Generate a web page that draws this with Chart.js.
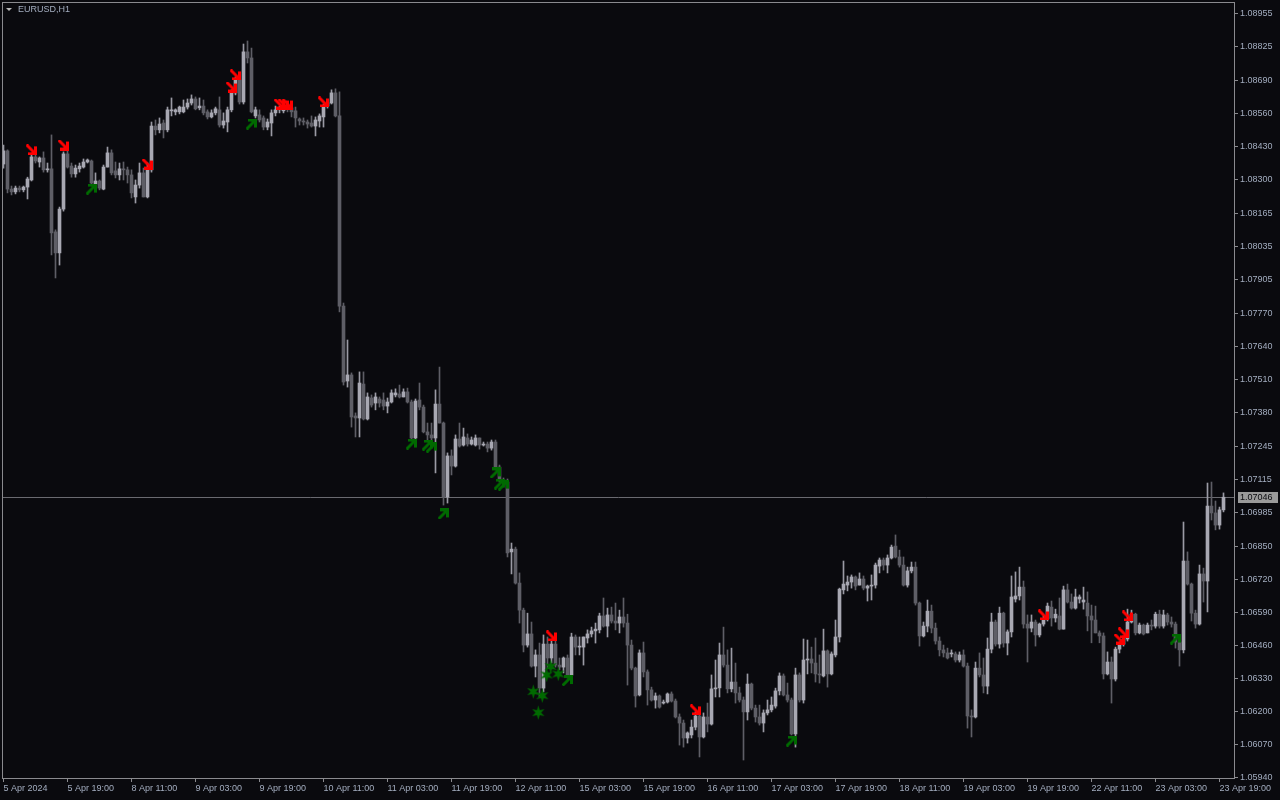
<!DOCTYPE html>
<html>
<head>
<meta charset="utf-8">
<script src="https://cdn.jsdelivr.net/npm/chart.js@4.4.1/dist/chart.umd.min.js"></script>
<style>
  html, body { margin: 0; padding: 0; background: #0a0a0e; overflow: hidden; }
  canvas { display: block; }
</style>
</head>
<body>
<canvas id="grafico" width="1280" height="800" style="width:1280px;height:800px"></canvas>
<script>
// EURUSD H1: velas (una por hora, desde 5 Apr 03:00).

const apertura = [
  1.08362, 1.08414, 1.08263, 1.08252, 1.08267, 1.0826, 1.08271, 1.08299, 1.0839, 1.0837,
  1.08386, 1.08339, 1.08343, 1.08094, 1.08011, 1.08184, 1.08402, 1.08354, 1.08323, 1.08343,
  1.0835, 1.0837, 1.08374, 1.08283, 1.08295, 1.08263, 1.0835, 1.08406, 1.08335, 1.08319,
  1.08343, 1.08339, 1.08319, 1.08232, 1.08279, 1.08327, 1.08232, 1.08339, 1.08512, 1.08497,
  1.08524, 1.08497, 1.08572, 1.08568, 1.08568, 1.08568, 1.08587, 1.08603, 1.08619, 1.08584,
  1.08591, 1.08568, 1.08548, 1.08564, 1.08576, 1.08516, 1.08528, 1.08576, 1.08643, 1.08694,
  1.08607, 1.08805, 1.08781, 1.08552, 1.08556, 1.08544, 1.08508, 1.08524, 1.08564, 1.08576,
  1.08572, 1.08587, 1.08584, 1.08572, 1.0854, 1.08532, 1.08528, 1.08524, 1.08512, 1.08532,
  1.08548, 1.08591, 1.08603, 1.08643, 1.08552, 1.07801, 1.07505, 1.07529, 1.07367, 1.07359,
  1.07493, 1.07355, 1.07438, 1.07418, 1.07434, 1.0743, 1.07406, 1.07422, 1.0745, 1.07454,
  1.07442, 1.07462, 1.07422, 1.0728, 1.0743, 1.07402, 1.07304, 1.07292, 1.0728, 1.07414,
  1.07339, 1.07047, 1.07209, 1.07169, 1.07276, 1.07252, 1.0728, 1.07256, 1.07252, 1.0728,
  1.07252, 1.07256, 1.0724, 1.07264, 1.07165, 1.07114, 1.07106, 1.0683, 1.06841, 1.06707,
  1.066, 1.06462, 1.06506, 1.06379, 1.06423, 1.06292, 1.06466, 1.06411, 1.06466, 1.06383,
  1.06375, 1.06411, 1.06344, 1.06494, 1.06454, 1.06454, 1.0649, 1.06506, 1.06518, 1.06522,
  1.06577, 1.06537, 1.06581, 1.06557, 1.06549, 1.06573, 1.06549, 1.06462, 1.06371, 1.06265,
  1.06431, 1.06356, 1.06285, 1.06245, 1.06261, 1.06233, 1.06237, 1.06269, 1.06241, 1.06178,
  1.06154, 1.06095, 1.06107, 1.06138, 1.06182, 1.06099, 1.06178, 1.0615, 1.06289, 1.06293,
  1.06423, 1.06383, 1.06289, 1.06316, 1.06273, 1.06245, 1.06198, 1.06308, 1.06213, 1.06178,
  1.06154, 1.06194, 1.06206, 1.06221, 1.06281, 1.0634, 1.06265, 1.06245, 1.06111, 1.06344,
  1.06245, 1.06403, 1.06407, 1.06391, 1.06348, 1.0634, 1.06439, 1.06348, 1.06423, 1.06494,
  1.0668, 1.06699, 1.06711, 1.06731, 1.06699, 1.06723, 1.06687, 1.06695, 1.06699, 1.06774,
  1.06798, 1.06778, 1.06806, 1.06853, 1.0681, 1.06778, 1.06699, 1.06755, 1.0677, 1.06628,
  1.06498, 1.06537, 1.06596, 1.06529, 1.06478, 1.06443, 1.06431, 1.06427, 1.06427, 1.06403,
  1.06423, 1.06379, 1.06182, 1.06178, 1.06371, 1.06344, 1.063, 1.06446, 1.06553, 1.06466,
  1.06588, 1.0647, 1.06514, 1.06644, 1.06656, 1.06691, 1.06545, 1.06529, 1.06553, 1.06502,
  1.06545, 1.06565, 1.06612, 1.06569, 1.06577, 1.06525, 1.0668, 1.06632, 1.06608, 1.06644,
  1.06632, 1.06628, 1.06577, 1.06561, 1.0651, 1.06498, 1.06348, 1.06395, 1.06328, 1.06446,
  1.06466, 1.06486, 1.06553, 1.06584, 1.0651, 1.06541, 1.0651, 1.06541, 1.06537, 1.06584,
  1.06537, 1.06581, 1.06553, 1.06545, 1.06474, 1.06443, 1.06794, 1.06703, 1.06588, 1.06545,
  1.06743, 1.06715, 1.07011, 1.06984, 1.06936, 1.06996,
];

const maximo = [
  1.08437, 1.08418, 1.08275, 1.08275, 1.08275, 1.08275, 1.0831, 1.08402, 1.08406, 1.0839,
  1.0841, 1.08366, 1.08477, 1.08102, 1.08192, 1.0841, 1.08418, 1.08366, 1.08358, 1.08366,
  1.08382, 1.08382, 1.08378, 1.08327, 1.08299, 1.08358, 1.08429, 1.08418, 1.0837, 1.08366,
  1.0837, 1.0835, 1.08339, 1.08299, 1.08366, 1.08346, 1.08366, 1.08528, 1.08536, 1.08544,
  1.08536, 1.08587, 1.08623, 1.0858, 1.08591, 1.08615, 1.08619, 1.08635, 1.08627, 1.08623,
  1.08615, 1.08576, 1.08576, 1.08587, 1.08627, 1.08564, 1.08587, 1.08655, 1.08706, 1.0871,
  1.08836, 1.08848, 1.0882, 1.08587, 1.08576, 1.08552, 1.0854, 1.08576, 1.08591, 1.08591,
  1.08603, 1.08603, 1.08595, 1.08587, 1.08544, 1.08544, 1.08536, 1.08552, 1.08548, 1.0856,
  1.08599, 1.08615, 1.08655, 1.08659, 1.08647, 1.07813, 1.07667, 1.07537, 1.07379, 1.07541,
  1.07541, 1.07458, 1.0745, 1.07458, 1.07442, 1.07458, 1.07438, 1.0747, 1.07474, 1.07489,
  1.07474, 1.07477, 1.0743, 1.07434, 1.07497, 1.0741, 1.07339, 1.07339, 1.0747, 1.0756,
  1.07343, 1.07221, 1.07233, 1.07292, 1.07339, 1.07319, 1.07296, 1.07284, 1.07292, 1.0728,
  1.07264, 1.07264, 1.07272, 1.07272, 1.07173, 1.07122, 1.07118, 1.06865, 1.06849, 1.06747,
  1.06608, 1.06588, 1.06553, 1.06443, 1.0647, 1.06502, 1.06494, 1.06482, 1.06482, 1.06411,
  1.06415, 1.06423, 1.06509, 1.06502, 1.06494, 1.06494, 1.06522, 1.06533, 1.06549, 1.06588,
  1.06648, 1.06608, 1.06612, 1.06628, 1.066, 1.06648, 1.06584, 1.06482, 1.06375, 1.06443,
  1.06474, 1.06364, 1.06296, 1.06273, 1.06265, 1.06245, 1.06273, 1.06277, 1.06249, 1.0619,
  1.06166, 1.06119, 1.06166, 1.06198, 1.06186, 1.06194, 1.06233, 1.06344, 1.06403, 1.0647,
  1.06533, 1.06443, 1.0645, 1.06391, 1.06296, 1.06257, 1.06348, 1.06312, 1.06225, 1.06225,
  1.06206, 1.06245, 1.06257, 1.06292, 1.06352, 1.06348, 1.06312, 1.06253, 1.06371, 1.06352,
  1.06486, 1.06482, 1.06454, 1.0649, 1.06423, 1.06525, 1.06443, 1.06435, 1.06561, 1.06687,
  1.06794, 1.06735, 1.06739, 1.06735, 1.06747, 1.06735, 1.06699, 1.06739, 1.06786, 1.06806,
  1.06806, 1.06818, 1.06857, 1.06897, 1.06837, 1.0681, 1.0677, 1.0679, 1.0679, 1.06632,
  1.06553, 1.0664, 1.0662, 1.06549, 1.06494, 1.06462, 1.0645, 1.06443, 1.06435, 1.06435,
  1.06443, 1.06391, 1.06206, 1.06395, 1.06431, 1.06411, 1.0649, 1.06588, 1.06561, 1.06612,
  1.06592, 1.06522, 1.06735, 1.06751, 1.0677, 1.06715, 1.06581, 1.06581, 1.06561, 1.06549,
  1.06577, 1.06628, 1.06636, 1.06604, 1.06648, 1.06695, 1.06703, 1.06664, 1.06683, 1.0666,
  1.06691, 1.06672, 1.0662, 1.06616, 1.06518, 1.0651, 1.06435, 1.06415, 1.06454, 1.06474,
  1.06494, 1.06604, 1.066, 1.06588, 1.06549, 1.06545, 1.06549, 1.06561, 1.06592, 1.066,
  1.066, 1.06588, 1.06573, 1.06553, 1.06482, 1.06948, 1.0683, 1.06707, 1.066, 1.06778,
  1.06766, 1.07102, 1.07106, 1.07031, 1.07007, 1.07063,
];

const minimo = [
  1.08346, 1.08248, 1.0824, 1.08244, 1.08252, 1.08252, 1.08224, 1.08295, 1.08366, 1.0835,
  1.0833, 1.0833, 1.08003, 1.07912, 1.07963, 1.08176, 1.08346, 1.0831, 1.0831, 1.0833,
  1.08346, 1.08366, 1.08279, 1.08271, 1.0826, 1.0826, 1.0835, 1.08319, 1.08307, 1.08299,
  1.08299, 1.08287, 1.08228, 1.08208, 1.08267, 1.08232, 1.08228, 1.0833, 1.08477, 1.08485,
  1.08465, 1.08489, 1.08552, 1.08556, 1.0856, 1.08564, 1.08579, 1.08595, 1.08576, 1.08576,
  1.08556, 1.0854, 1.08544, 1.08556, 1.08508, 1.08504, 1.08489, 1.08568, 1.08635, 1.08599,
  1.08599, 1.08761, 1.08564, 1.08544, 1.08528, 1.08497, 1.08497, 1.08473, 1.08552, 1.08564,
  1.08564, 1.08568, 1.08548, 1.08508, 1.08516, 1.08516, 1.08504, 1.08508, 1.08473, 1.08508,
  1.08508, 1.08583, 1.08599, 1.08548, 1.07778, 1.07489, 1.07481, 1.07323, 1.07284, 1.07284,
  1.07351, 1.07351, 1.07402, 1.07391, 1.07402, 1.07391, 1.07379, 1.07418, 1.07442, 1.07438,
  1.07442, 1.07418, 1.07272, 1.07272, 1.07391, 1.073, 1.07272, 1.07244, 1.07142, 1.07339,
  1.07015, 1.07023, 1.07134, 1.07165, 1.07244, 1.07248, 1.07248, 1.07252, 1.07248, 1.07236,
  1.07248, 1.07225, 1.07232, 1.07161, 1.07106, 1.07098, 1.0681, 1.06743, 1.06703, 1.06549,
  1.06435, 1.06454, 1.06375, 1.06336, 1.06257, 1.06277, 1.06371, 1.06391, 1.06375, 1.06364,
  1.06352, 1.06332, 1.06336, 1.06423, 1.06423, 1.06383, 1.0647, 1.06494, 1.0647, 1.0651,
  1.06533, 1.06494, 1.06549, 1.06522, 1.0651, 1.06533, 1.06304, 1.06364, 1.06217, 1.06261,
  1.06336, 1.06225, 1.06241, 1.06213, 1.06213, 1.06229, 1.06233, 1.06237, 1.06174, 1.06067,
  1.06059, 1.06075, 1.06095, 1.06127, 1.0602, 1.06095, 1.06119, 1.06146, 1.06257, 1.06257,
  1.06375, 1.06273, 1.06277, 1.06233, 1.06237, 1.06008, 1.06166, 1.06206, 1.06158, 1.06146,
  1.06119, 1.06186, 1.06198, 1.06213, 1.06265, 1.06261, 1.06237, 1.06107, 1.06059, 1.06237,
  1.06233, 1.06348, 1.06352, 1.06316, 1.06312, 1.06336, 1.06296, 1.06344, 1.06415, 1.06474,
  1.06664, 1.06676, 1.06687, 1.0668, 1.06699, 1.0668, 1.06636, 1.0664, 1.06687, 1.06747,
  1.06758, 1.06747, 1.06802, 1.06806, 1.0677, 1.06695, 1.06691, 1.06747, 1.0662, 1.06458,
  1.06494, 1.06514, 1.0651, 1.06466, 1.06419, 1.06415, 1.06407, 1.06415, 1.06395, 1.06395,
  1.06375, 1.06134, 1.06099, 1.06174, 1.06336, 1.06273, 1.06269, 1.06431, 1.06458, 1.0645,
  1.06454, 1.06423, 1.06494, 1.06632, 1.0664, 1.06529, 1.06395, 1.06514, 1.06458, 1.06494,
  1.06537, 1.06557, 1.06537, 1.06553, 1.06522, 1.06525, 1.06628, 1.06604, 1.06604, 1.06628,
  1.06604, 1.06518, 1.06471, 1.0651, 1.06471, 1.06328, 1.06344, 1.06233, 1.0632, 1.06431,
  1.06458, 1.06478, 1.06549, 1.06502, 1.06506, 1.06502, 1.0651, 1.06522, 1.06529, 1.06529,
  1.06529, 1.06541, 1.06533, 1.0645, 1.06379, 1.06431, 1.06699, 1.06557, 1.06529, 1.06541,
  1.06632, 1.06593, 1.06956, 1.06917, 1.0692, 1.06988,
];

const cierre = [
  1.08414, 1.08263, 1.08252, 1.08267, 1.0826, 1.08271, 1.08303, 1.0839, 1.08374, 1.08386,
  1.08339, 1.08343, 1.0809, 1.08011, 1.08184, 1.08402, 1.0835, 1.08323, 1.08346, 1.08354,
  1.0837, 1.08378, 1.08287, 1.08295, 1.08267, 1.0835, 1.08406, 1.08327, 1.08319, 1.08343,
  1.08339, 1.08319, 1.08248, 1.08279, 1.08327, 1.08232, 1.08343, 1.08512, 1.08497, 1.0852,
  1.08497, 1.08576, 1.08576, 1.08576, 1.08587, 1.08587, 1.08603, 1.08619, 1.0858, 1.08591,
  1.08564, 1.08548, 1.08564, 1.0858, 1.08516, 1.08532, 1.08576, 1.08643, 1.08694, 1.08607,
  1.08805, 1.08781, 1.08568, 1.08576, 1.08536, 1.08508, 1.08528, 1.08564, 1.08576, 1.0858,
  1.08587, 1.08584, 1.08568, 1.08544, 1.08532, 1.08528, 1.0852, 1.08512, 1.08536, 1.08552,
  1.08591, 1.08603, 1.08643, 1.08552, 1.07801, 1.07501, 1.07529, 1.07363, 1.07359, 1.07497,
  1.07355, 1.07442, 1.0741, 1.07442, 1.07418, 1.07406, 1.07422, 1.07458, 1.07458, 1.07442,
  1.07462, 1.07422, 1.0728, 1.07426, 1.07402, 1.07304, 1.07292, 1.0728, 1.07414, 1.07339,
  1.07047, 1.07209, 1.07169, 1.07276, 1.07248, 1.07284, 1.07256, 1.07272, 1.0728, 1.07252,
  1.07256, 1.0724, 1.07264, 1.07165, 1.07114, 1.07106, 1.06826, 1.06841, 1.06707, 1.066,
  1.06462, 1.06506, 1.06379, 1.06423, 1.06292, 1.06466, 1.06411, 1.06466, 1.06383, 1.06375,
  1.06411, 1.0634, 1.06494, 1.06454, 1.06458, 1.06494, 1.06506, 1.06518, 1.06525, 1.06577,
  1.06537, 1.06581, 1.06557, 1.06549, 1.06573, 1.06549, 1.06462, 1.06371, 1.06261, 1.06431,
  1.06356, 1.06285, 1.06245, 1.06261, 1.06217, 1.06237, 1.06269, 1.06241, 1.06178, 1.06154,
  1.06095, 1.06115, 1.06138, 1.06182, 1.06099, 1.06178, 1.0615, 1.06289, 1.06293, 1.06423,
  1.06383, 1.06289, 1.06316, 1.06273, 1.06245, 1.06198, 1.06308, 1.06213, 1.06178, 1.06154,
  1.06194, 1.06206, 1.06225, 1.06281, 1.0634, 1.06265, 1.06245, 1.06111, 1.06344, 1.06245,
  1.06403, 1.06407, 1.06391, 1.06348, 1.06344, 1.06439, 1.06348, 1.06427, 1.06494, 1.06683,
  1.06703, 1.06711, 1.06731, 1.06695, 1.06723, 1.06687, 1.06695, 1.06699, 1.06778, 1.06798,
  1.06778, 1.06806, 1.06849, 1.0681, 1.06778, 1.06699, 1.06755, 1.0677, 1.06628, 1.06498,
  1.06537, 1.06596, 1.06529, 1.06478, 1.06443, 1.06431, 1.06411, 1.06431, 1.06403, 1.06423,
  1.06379, 1.06182, 1.06178, 1.06371, 1.06344, 1.063, 1.06446, 1.06553, 1.06466, 1.06588,
  1.0647, 1.06514, 1.06652, 1.06656, 1.06691, 1.06545, 1.06529, 1.06553, 1.06502, 1.06545,
  1.06565, 1.06616, 1.06569, 1.06584, 1.06525, 1.0668, 1.06632, 1.06608, 1.06652, 1.06652,
  1.0664, 1.06577, 1.06561, 1.0651, 1.06498, 1.06348, 1.06395, 1.06328, 1.06446, 1.06466,
  1.06486, 1.06553, 1.06584, 1.0651, 1.06541, 1.06506, 1.06541, 1.06537, 1.06584, 1.06537,
  1.06581, 1.06553, 1.06545, 1.06474, 1.06443, 1.06794, 1.06703, 1.06588, 1.06545, 1.06743,
  1.06715, 1.07011, 1.06984, 1.06936, 1.06996, 1.07046,
];

// Señales del indicador: índice de vela y precio del centro de la flecha.
const ventaBarra  = [7, 15, 36, 57, 58, 69, 70, 71, 80, 137, 173, 260, 279, 280, 281];
const ventaPrecio = [1.08418, 1.08437, 1.08362, 1.08666, 1.08714, 1.08599, 1.08599, 1.08599,
                     1.08607, 1.06498, 1.06206, 1.06581, 1.06486, 1.0651, 1.06577];
const compraBarra  = [22, 62, 102, 106, 107, 110, 123, 124, 125, 141, 197, 293];
const compraPrecio = [1.08263, 1.0852, 1.07256, 1.07252, 1.07244, 1.0698, 1.07142, 1.07098,
                      1.07094, 1.06322, 1.06083, 1.06486];
const estrellaBarra  = [132.45, 134.7, 133.7, 135.8, 136.8, 138.7];
const estrellaPrecio = [1.06278, 1.06262, 1.06195, 1.06344, 1.06377, 1.06348];

// Ejes
const barrasEtiquetaX = [0, 16, 32, 48, 64, 80, 96, 112, 128, 144, 160, 176, 192, 208, 224, 240, 256, 272, 288, 304];
const etiquetasX = ["5 Apr 2024", "5 Apr 19:00", "8 Apr 11:00", "9 Apr 03:00", "9 Apr 19:00",
  "10 Apr 11:00", "11 Apr 03:00", "11 Apr 19:00", "12 Apr 11:00", "15 Apr 03:00",
  "15 Apr 19:00", "16 Apr 11:00", "17 Apr 03:00", "17 Apr 19:00", "18 Apr 11:00",
  "19 Apr 03:00", "19 Apr 19:00", "22 Apr 11:00", "23 Apr 03:00", "23 Apr 19:00"];
const ticksY = [1.08955, 1.08825, 1.08690, 1.08560, 1.08430, 1.08300, 1.08165, 1.08035,
  1.07905, 1.07770, 1.07640, 1.07510, 1.07380, 1.07245, 1.07115, 1.06985, 1.06850, 1.06720,
  1.06590, 1.06460, 1.06330, 1.06200, 1.06070, 1.05940];
const simbolo = "EURUSD,H1";

const FONDO = "#0a0a0e";
const TEXTO = "#a3adbf";
const MARCO = "#8a8a8e";
const FUENTE = { family: "'Liberation Sans', Arial, sans-serif", size: 9 };

const alcista = cierre.map((c, i) => c > apertura[i]);
const colorCuerpo = alcista.map((a) => (a ? "#a8a8b2" : "#5e5e66"));
const colorMecha = alcista.map((a) => (a ? "#9a9aa4" : "#5e5e66"));

// Flechas tipo MT4 dibujadas en un canvas pequeño y usadas como pointStyle.
function crearFlecha(color, arriba) {
  const c = document.createElement("canvas");
  c.width = 11; c.height = 11;
  const g = c.getContext("2d");
  g.fillStyle = color; g.strokeStyle = color; g.lineWidth = 3;
  g.beginPath();
  if (arriba) {
    g.fillRect(8, 0, 3, 9);
    g.fillRect(2, 0, 9, 3);
    g.moveTo(0.5, 10.5); g.lineTo(9, 2);
  } else {
    g.fillRect(8, 2, 3, 9);
    g.fillRect(2, 8, 9, 3);
    g.moveTo(0.5, 0.5); g.lineTo(9, 9);
  }
  g.stroke();
  return c;
}

// Estrella de 6 puntas rellena (marca del indicador cerca del 12 Apr).
function crearEstrella(color) {
  const c = document.createElement("canvas");
  c.width = 15; c.height = 15;
  const g = c.getContext("2d");
  g.fillStyle = color;
  g.beginPath();
  const puntas = 6;
  for (let k = 0; k < puntas * 2; k++) {
    const r = k % 2 === 0 ? 7.2 : 2.8;
    const a = -Math.PI / 2 + (k * Math.PI) / puntas;
    const px = 7.5 + r * Math.cos(a), py = 7.5 + r * Math.sin(a);
    k === 0 ? g.moveTo(px, py) : g.lineTo(px, py);
  }
  g.closePath();
  g.fill();
  return c;
}

const flechaVenta = crearFlecha("#ff0000", false);
const flechaCompra = crearFlecha("#006a00", true);
const estrella = crearEstrella("#006a00");

const marcoMT4 = {
  id: "marcoMT4",
  beforeDraw(chart) {
    const ctx = chart.ctx;
    ctx.save();
    ctx.fillStyle = FONDO;
    ctx.fillRect(0, 0, chart.width, chart.height);
    ctx.restore();
  },
  beforeDatasetsDraw(chart) {
    const { ctx, chartArea: a, scales } = chart;
    const y = Math.round(scales.y.getPixelForValue(cierre[cierre.length - 1])) + 0.5;
    ctx.save();
    ctx.strokeStyle = "#6a6a70";
    ctx.lineWidth = 1;
    ctx.beginPath();
    ctx.moveTo(a.left, y); ctx.lineTo(a.right, y);
    ctx.stroke();
    ctx.restore();
  },
  afterDraw(chart) {
    const { ctx, chartArea: a, scales } = chart;
    ctx.save();
    ctx.strokeStyle = MARCO;
    ctx.lineWidth = 1;
    ctx.strokeRect(a.left - 0.5, a.top - 0.5, a.right - a.left + 1, a.bottom - a.top + 1);

    // título
    ctx.fillStyle = "#b8b8b8";
    ctx.beginPath();
    ctx.moveTo(6, 8); ctx.lineTo(12, 8); ctx.lineTo(9, 11); ctx.closePath();
    ctx.fill();
    ctx.font = `${FUENTE.size}px ${FUENTE.family}`;
    ctx.fillStyle = TEXTO;
    ctx.textBaseline = "middle";
    ctx.fillText(simbolo, 18, 10);

    // etiqueta del precio actual
    const ultimo = cierre[cierre.length - 1];
    const y = Math.round(scales.y.getPixelForValue(ultimo));
    ctx.fillStyle = "#9a9a9a";
    ctx.fillRect(a.right + 4, y - 5, 40, 11);
    ctx.fillStyle = "#0a0a0e";
    ctx.fillText(ultimo.toFixed(5), a.right + 6, y + 0.5);
    ctx.restore();
  },
};

const barras = apertura.map((_, i) => i);

new Chart(document.getElementById("grafico"), {
  type: "bar",
  data: {
    datasets: [
      {
        type: "scatter", order: 0,
        data: ventaBarra.map((b, k) => ({ x: b, y: ventaPrecio[k] })),
        pointStyle: flechaVenta, pointRadius: 5,
      },
      {
        type: "scatter", order: 0,
        data: compraBarra.map((b, k) => ({ x: b, y: compraPrecio[k] })),
        pointStyle: flechaCompra, pointRadius: 5,
      },
      {
        type: "scatter", order: 0,
        data: estrellaBarra.map((b, k) => ({ x: b, y: estrellaPrecio[k] })),
        pointStyle: estrella, pointRadius: 5,
      },
      {
        order: 1, grouped: false,
        data: barras.map((i) => ({ x: i, y: [apertura[i], cierre[i]] })),
        backgroundColor: colorCuerpo, borderWidth: 0,
        barThickness: 3, minBarLength: 1,
      },
      {
        order: 2, grouped: false,
        data: barras.map((i) => ({ x: i, y: [minimo[i], maximo[i]] })),
        backgroundColor: colorMecha, borderWidth: 0,
        barThickness: 1, minBarLength: 1,
      },
    ],
  },
  options: {
    responsive: false,
    animation: false,
    devicePixelRatio: 1,
    layout: { autoPadding: false, padding: { left: 3, top: 3, right: 0, bottom: 0 } },
    plugins: { legend: { display: false }, tooltip: { enabled: false } },
    events: [],
    scales: {
      x: {
        type: "linear", position: "bottom", offset: false,
        min: -0.125, max: 307.625,
        afterBuildTicks: (s) => { s.ticks = barrasEtiquetaX.map((v) => ({ value: v })); },
        afterFit: (s) => { s.height = 22; s.paddingLeft = 0; s.paddingRight = 0; },
        ticks: {
          callback: (v, idx) => etiquetasX[idx],
          autoSkip: false, maxRotation: 0, minRotation: 0,
          align: "start", padding: 1, color: TEXTO, font: FUENTE,
        },
        grid: { offset: false, drawOnChartArea: false, drawTicks: true, tickLength: 4, color: MARCO },
        border: { display: false },
      },
      y: {
        type: "linear", position: "right",
        min: 1.05937, max: 1.08998,
        afterBuildTicks: (s) => { s.ticks = ticksY.map((v) => ({ value: v })); },
        afterFit: (s) => { s.width = 46; s.paddingTop = 0; s.paddingBottom = 0; },
        ticks: {
          callback: (v) => v.toFixed(5),
          autoSkip: false, padding: 2, color: TEXTO, font: FUENTE,
        },
        grid: { drawOnChartArea: false, drawTicks: true, tickLength: 4, color: MARCO },
        border: { display: false },
      },
    },
  },
  plugins: [marcoMT4],
});
</script>
</body>
</html>
